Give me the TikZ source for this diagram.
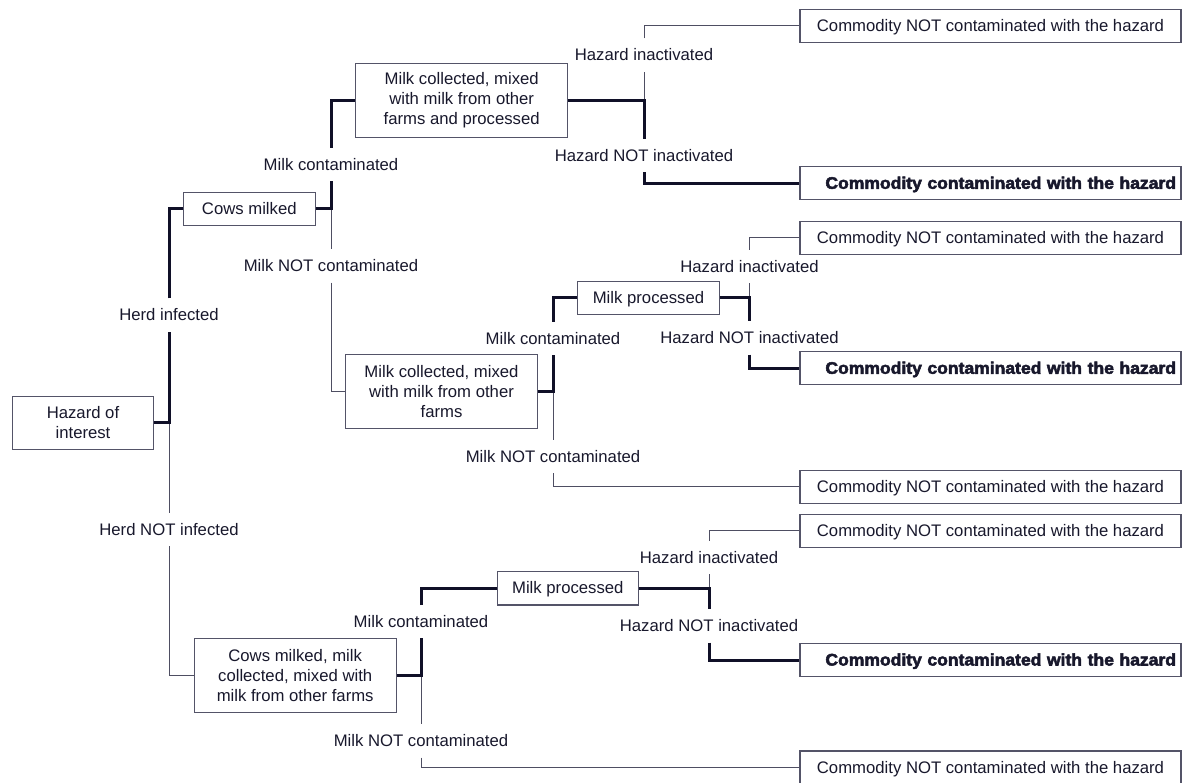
\documentclass[tikz,border=0pt]{standalone}
\usepackage{fontspec}
\setmainfont{Liberation Sans}
\newfontfamily\heavyfont{Liberation Sans}[BoldFeatures={FakeBold=3,FakeStretch=1.05}]
\definecolor{inkc}{RGB}{24,24,44}
\definecolor{framec}{RGB}{84,84,104}
\definecolor{thinc}{RGB}{78,78,98}
\definecolor{thickc}{RGB}{16,16,40}

\begin{document}
\begin{tikzpicture}[x=1pt,y=-1pt,
  font=\fontsize{16.7}{20}\selectfont, text=inkc,
  box/.style={draw=framec, line width=1.1pt, fill=white, align=center, inner sep=0pt},
  onebox/.style={box, text height=11pt, text depth=0pt},
  endbox/.style={onebox, minimum width=381pt, minimum height=33pt},
  boldbox/.style={endbox, text width=371pt, align=right,
    font=\fontsize{16.7}{20}\selectfont\heavyfont\bfseries},
  branch/.style={inner sep=0pt, minimum height=33pt, text height=11.5pt, text depth=0pt},
  thickline/.style={draw=thickc, line width=3pt},
  thinline/.style={draw=thinc, line width=1pt}
]
\useasboundingbox (0,0) rectangle (1184,783);

% ---------- decision boxes ----------
\node[box, minimum width=141.4pt, minimum height=53pt] (haz) at (83,423) {Hazard of\\interest};
\node[onebox, minimum width=132pt, minimum height=33.4pt] (cows) at (249.3,209) {Cows milked};
\node[box, minimum width=212pt, minimum height=74pt] (mcp) at (461.7,100.3)
  {Milk collected, mixed\\with milk from other\\farms and processed};
\node[box, minimum width=191.6pt, minimum height=73.6pt] (mcm) at (441.5,391.5)
  {Milk collected, mixed\\with milk from other\\farms};
\node[onebox, minimum width=141.6pt, minimum height=32.6pt] (mpa) at (648.5,298) {Milk processed};
\node[box, minimum width=202.3pt, minimum height=73.6pt] (cmc) at (295.2,675.5)
  {Cows milked, milk\\collected, mixed with\\milk from other farms};
\node[onebox, minimum width=141pt, minimum height=33.3pt] (mpb) at (567.8,588.3) {Milk processed};

% ---------- outcome boxes ----------
\node[endbox] (n1) at (990.5,26) {Commodity NOT contaminated with the hazard};
\node[boldbox] (b1) at (990.5,183.3) {Commodity contaminated with the hazard};
\node[endbox] (n2) at (990.5,238) {Commodity NOT contaminated with the hazard};
\node[boldbox] (b2) at (990.5,368.3) {Commodity contaminated with the hazard};
\node[endbox] (n3) at (990.5,487) {Commodity NOT contaminated with the hazard};
\node[endbox] (n4) at (990.5,530.7) {Commodity NOT contaminated with the hazard};
\node[boldbox] (b3) at (990.5,660) {Commodity contaminated with the hazard};
\node[endbox] (n5) at (990.5,767.5) {Commodity NOT contaminated with the hazard};

% ---------- branch labels ----------
\node[branch] (hi0) at (169,315) {Herd infected};
\node[branch] (hn0) at (169,529.3) {Herd NOT infected};
\node[branch] (mc1) at (331,164.3) {Milk contaminated};
\node[branch] (mn1) at (331,266) {Milk NOT contaminated};
\node[branch] (ha1) at (644,55) {Hazard inactivated};
\node[branch] (hx1) at (644,155.7) {Hazard NOT inactivated};
\node[branch] (mc2) at (553,338.3) {Milk contaminated};
\node[branch] (mn2) at (553,456.7) {Milk NOT contaminated};
\node[branch] (ha2) at (749.5,266.7) {Hazard inactivated};
\node[branch] (hx2) at (749.5,338) {Hazard NOT inactivated};
\node[branch] (mc3) at (421,621.7) {Milk contaminated};
\node[branch] (mn3) at (421,741) {Milk NOT contaminated};
\node[branch] (ha3) at (709,557.3) {Hazard inactivated};
\node[branch] (hx3) at (709,626) {Hazard NOT inactivated};

% ---------- thin branches ----------
\draw[thinline] (hn0.north |- haz.east) -- (hn0.north);
\draw[thinline] (hn0.south) |- (cmc.west);
\draw[thinline] (mn1.north |- cows.east) -- (mn1.north);
\draw[thinline] (mn1.south) |- (mcm.west);
\draw[thinline] (ha1.south |- mcp.east) -- (ha1.south);
\draw[thinline] (ha1.north) |- (n1.west);
\draw[thinline] (mn2.north |- mcm.east) -- (mn2.north);
\draw[thinline] (mn2.south) |- (n3.west);
\draw[thinline] (ha2.south |- mpa.east) -- (ha2.south);
\draw[thinline] (ha2.north) |- (n2.west);
\draw[thinline] (mn3.north |- cmc.east) -- (mn3.north);
\draw[thinline] (mn3.south) |- (n5.west);
\draw[thinline] (ha3.south |- mpb.east) -- (ha3.south);
\draw[thinline] (ha3.north) |- (n4.west);

% ---------- thick branches (contamination pathway) ----------
\draw[thickline] (haz.east) -| (hi0.south);
\draw[thickline] (hi0.north) |- (cows.west);
\draw[thickline] (cows.east) -| (mc1.south);
\draw[thickline] (mc1.north) |- (mcp.west);
\draw[thickline] (mcp.east) -| (hx1.north);
\draw[thickline] (hx1.south) |- (b1.west);
\draw[thickline] (mcm.east) -| (mc2.south);
\draw[thickline] (mc2.north) |- (mpa.west);
\draw[thickline] (mpa.east) -| (hx2.north);
\draw[thickline] (hx2.south) |- (b2.west);
\draw[thickline] (cmc.east) -| (mc3.south);
\draw[thickline] (mc3.north) |- (mpb.west);
\draw[thickline] (mpb.east) -| (hx3.north);
\draw[thickline] (hx3.south) |- (b3.west);
\end{tikzpicture}
\end{document}
